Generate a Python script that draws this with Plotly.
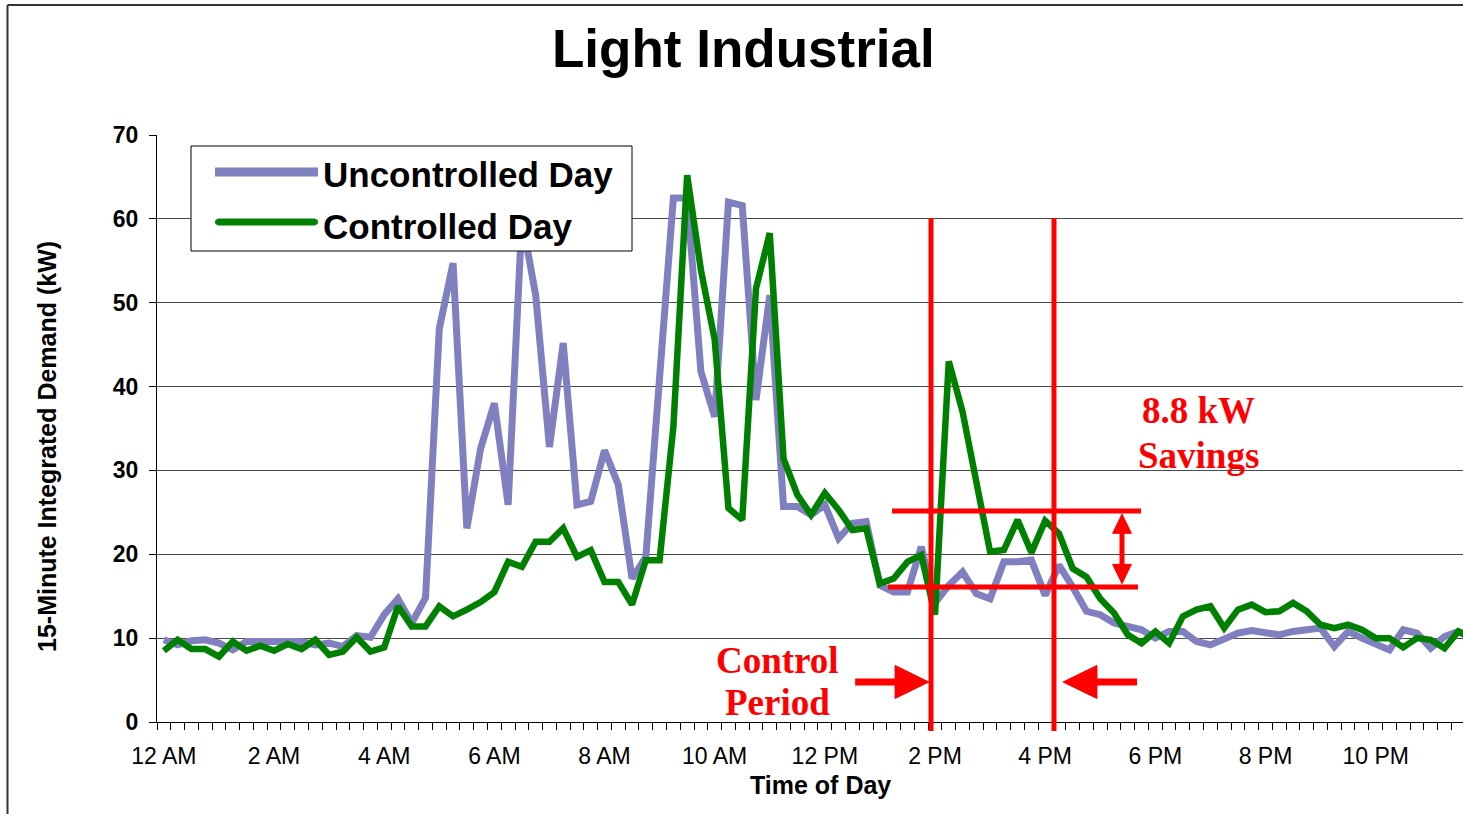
import plotly.graph_objects as go

# 15-minute intervals over one day (96 intervals)
uncontrolled = [9.8, 9.2, 9.7, 9.8, 9.4, 8.6, 9.6, 9.6, 9.4, 9.4, 9.6, 9.2, 9.4, 9.0, 10.3, 10.1,
                12.8, 14.7, 11.8, 14.8, 46.9, 54.7, 23.1, 32.6, 38.0, 25.9, 60.0, 50.9, 32.8, 45.2, 25.9, 26.3,
                32.4, 28.3, 17.1, 19.7, 42.0, 62.5, 62.5, 41.8, 36.4, 62.0, 61.6, 38.4, 50.9, 25.7, 25.7, 24.7,
                25.9, 21.9, 23.7, 23.9, 16.3, 15.5, 15.5, 20.9, 14.2, 16.3, 17.9, 15.3, 14.7, 19.1, 19.1, 19.3,
                15.1, 18.7, 16.1, 13.2, 12.8, 11.8, 11.4, 11.0, 10.0, 10.8, 10.8, 9.6, 9.2, 9.8, 10.6, 10.9,
                10.6, 10.4, 10.8, 11.0, 11.2, 9.0, 10.8, 10.0, 9.4, 8.6, 11.0, 10.6, 8.8, 10.2, 10.8, 10.0]

controlled = [8.5, 9.8, 8.7, 8.7, 7.8, 9.6, 8.5, 9.1, 8.5, 9.3, 8.7, 9.8, 8.0, 8.4, 10.1, 8.4,
              8.9, 13.8, 11.4, 11.4, 13.8, 12.6, 13.4, 14.3, 15.5, 19.1, 18.5, 21.5, 21.5, 23.1, 19.7, 20.5,
              16.7, 16.7, 14.0, 19.3, 19.3, 35.2, 65.2, 53.9, 45.6, 25.5, 24.1, 51.7, 58.3, 31.4, 27.1, 24.7,
              27.3, 25.3, 22.9, 23.1, 16.5, 17.1, 19.1, 19.9, 12.8, 43.0, 37.0, 28.5, 20.3, 20.5, 24.1, 20.2,
              24.0, 22.5, 18.3, 17.3, 14.7, 13.0, 10.4, 9.4, 10.8, 9.4, 12.6, 13.4, 13.8, 11.2, 13.4, 14.0,
              13.1, 13.2, 14.2, 13.2, 11.6, 11.2, 11.6, 11.0, 10.0, 10.0, 8.9, 10.0, 9.8, 8.8, 10.8, 10.0]

intervals = list(range(len(uncontrolled)))
tick_positions = [0, 8, 16, 24, 32, 40, 48, 56, 64, 72, 80, 88]
tick_labels = ["12 AM", "2 AM", "4 AM", "6 AM", "8 AM", "10 AM",
               "12 PM", "2 PM", "4 PM", "6 PM", "8 PM", "10 PM"]

series_names = ["Uncontrolled Day", "Controlled Day"]
purple = "#8080C0"
green = "#008000"
red = "#FF0000"

W, H = 1463, 814
L, R, T, B = 157, 0, 135, 92
PW, PH = W - L - R, H - T - B


def px(x):
    return (x - L) / PW


def py(y):
    return (H - B - y) / PH


fig = go.Figure()
fig.add_trace(go.Scatter(x=intervals, y=uncontrolled, mode="lines", name=series_names[0],
                         line=dict(color=purple, width=7), showlegend=False))
fig.add_trace(go.Scatter(x=intervals, y=controlled, mode="lines", name=series_names[1],
                         line=dict(color=green, width=6.5), showlegend=False))

shapes = []
# outer frame (left and top)
shapes.append(dict(type="line", xref="paper", yref="paper", x0=px(7.5), x1=px(7.5), y0=py(5), y1=py(816),
                   line=dict(color="#333333", width=2)))
shapes.append(dict(type="line", xref="paper", yref="paper", x0=px(7.5), x1=px(1465), y0=py(5), y1=py(5),
                   line=dict(color="#333333", width=2)))

# control period vertical lines
for xv in [55.71, 64.64]:
    shapes.append(dict(type="line", xref="x", yref="paper", x0=xv, x1=xv, y0=py(731), y1=py(218),
                       line=dict(color=red, width=5), layer="above"))
# savings horizontal lines
shapes.append(dict(type="line", xref="x", yref="y", x0=52.88, x1=70.96, y0=25.16, y1=25.16,
                   line=dict(color=red, width=5), layer="above"))
shapes.append(dict(type="line", xref="x", yref="y", x0=52.59, x1=70.74, y0=16.10, y1=16.10,
                   line=dict(color=red, width=5), layer="above"))
# double arrow
shapes.append(dict(type="line", xref="x", yref="y", x0=69.58, x1=69.58, y0=22.9, y1=18.3,
                   line=dict(color=red, width=5), layer="above"))
shapes.append(dict(type="path", xref="x", yref="y", layer="above",
                   path="M 69.58 24.8 L 68.9 22.5 L 70.26 22.5 Z", fillcolor=red, line=dict(color=red, width=1)))
shapes.append(dict(type="path", xref="x", yref="y", layer="above",
                   path="M 69.58 16.5 L 68.9 18.8 L 70.26 18.8 Z", fillcolor=red, line=dict(color=red, width=1)))
# left arrow (pointing right)
shapes.append(dict(type="line", xref="x", yref="y", x0=50.2, x1=53.5, y0=4.77, y1=4.77,
                   line=dict(color=red, width=7), layer="above"))
shapes.append(dict(type="path", xref="x", yref="y", layer="above",
                   path="M 55.55 4.77 L 53.1 6.75 L 53.1 2.8 Z", fillcolor=red, line=dict(color=red, width=1)))
# right arrow (pointing left)
shapes.append(dict(type="line", xref="x", yref="y", x0=67.5, x1=70.67, y0=4.77, y1=4.77,
                   line=dict(color=red, width=7), layer="above"))
shapes.append(dict(type="path", xref="x", yref="y", layer="above",
                   path="M 65.3 4.77 L 67.76 6.75 L 67.76 2.8 Z", fillcolor=red, line=dict(color=red, width=1)))

# custom legend
shapes.append(dict(type="rect", xref="paper", yref="paper", x0=px(191), x1=px(632), y0=py(251), y1=py(146),
                   fillcolor="white", line=dict(color="black", width=1), layer="above"))
shapes.append(dict(type="line", xref="paper", yref="paper", x0=px(215), x1=px(318), y0=py(172), y1=py(172),
                   line=dict(color=purple, width=9), layer="above"))
shapes.append(dict(type="line", xref="paper", yref="paper", x0=px(218), x1=px(315), y0=py(222), y1=py(222),
                   line=dict(color=green, width=7), layer="above"))
shapes.append(dict(type="circle", xref="paper", yref="paper", x0=px(215), x1=px(221), y0=py(225), y1=py(219),
                   fillcolor=green, line=dict(width=0), layer="above"))
shapes.append(dict(type="circle", xref="paper", yref="paper", x0=px(312), x1=px(318), y0=py(225), y1=py(219),
                   fillcolor=green, line=dict(width=0), layer="above"))

annotations = []
sans = "Liberation Sans, Arial, sans-serif"
serif = "Liberation Serif, Times New Roman, serif"
annotations.append(dict(text="<b>Light Industrial</b>", xref="paper", yref="paper", x=px(743), y=py(48),
                        showarrow=False, xanchor="center", yanchor="middle",
                        font=dict(family=sans, size=53, color="black")))
annotations.append(dict(text="<b>15-Minute Integrated Demand (kW)</b>", xref="paper", yref="paper",
                        x=px(47), y=py(447), showarrow=False, textangle=-90, xanchor="center", yanchor="middle",
                        font=dict(family=sans, size=25, color="black")))
annotations.append(dict(text="<b>Time of Day</b>", xref="paper", yref="paper", x=px(820), y=py(785),
                        showarrow=False, xanchor="center", yanchor="middle",
                        font=dict(family=sans, size=25, color="black")))
annotations.append(dict(text="<b>" + series_names[0] + "</b>", xref="paper", yref="paper", x=px(321), y=py(174),
                        showarrow=False, xanchor="left", yanchor="middle",
                        font=dict(family=sans, size=35, color="black")))
annotations.append(dict(text="<b>" + series_names[1] + "</b>", xref="paper", yref="paper", x=px(321), y=py(226),
                        showarrow=False, xanchor="left", yanchor="middle",
                        font=dict(family=sans, size=35, color="black")))
for txt, xv, yv in [("Control", 44.53, 7.39), ("Period", 44.53, 2.27),
                    ("8.8 kW", 75.17, 37.2), ("Savings", 75.17, 31.84)]:
    annotations.append(dict(text="<b>" + txt + "</b>", xref="x", yref="y", x=xv, y=yv, showarrow=False,
                            xanchor="center", yanchor="middle",
                            font=dict(family=serif, size=37, color=red)))

fig.update_layout(
    width=W, height=H, autosize=False,
    margin=dict(l=L, r=R, t=T, b=B, pad=0),
    paper_bgcolor="white", plot_bgcolor="white",
    shapes=shapes, annotations=annotations,
    showlegend=False,
    xaxis=dict(range=[-0.5, -0.5 + PW / 13.77], tickmode="array", tickvals=tick_positions, ticktext=tick_labels,
               ticks="", showgrid=False, zeroline=False, showline=True, linecolor="black", linewidth=1,
               tickfont=dict(family=sans, size=23, color="black"), ticklabelstandoff=13,
               minor=dict(ticks="outside", ticklen=7, tickcolor="black", tickwidth=1, tick0=-0.5, dtick=1,
                          showgrid=False)),
    yaxis=dict(range=[0, 70], dtick=10, tick0=0, ticks="outside", ticklen=7, tickcolor="black",
               showgrid=True, gridcolor="#4a4a4a", gridwidth=1, zeroline=False,
               showline=True, linecolor="black", linewidth=1,
               tickfont=dict(family=sans, size=23, color="black", weight="bold"), ticklabelstandoff=6),
)

fig.write_html("out.html", config={"displayModeBar": False},
               post_script="document.body.style.margin='0px';document.body.style.overflow='hidden';")
